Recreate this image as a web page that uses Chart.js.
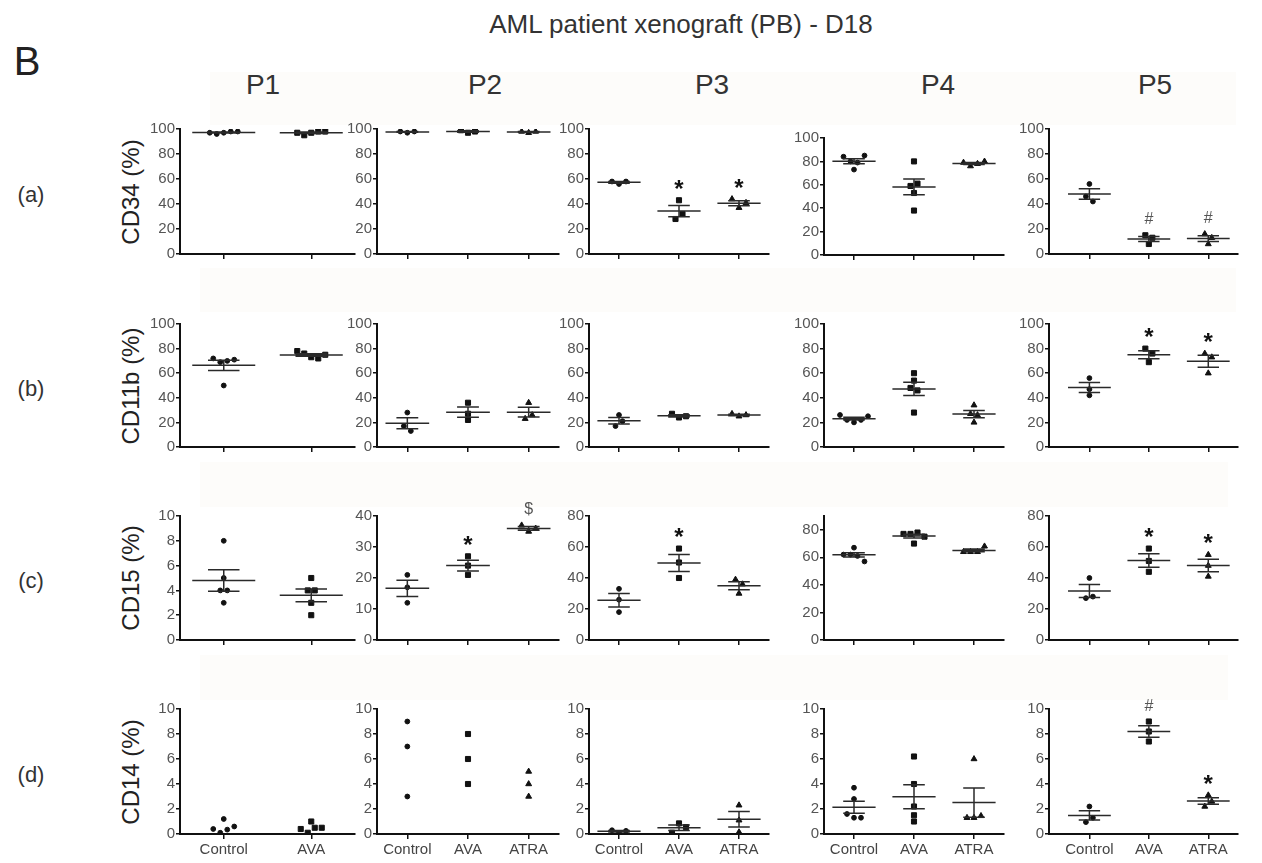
<!DOCTYPE html>
<html><head><meta charset="utf-8">
<script src="https://cdn.jsdelivr.net/npm/chart.js@4.4.1/dist/chart.umd.min.js"></script>
<style>
body{margin:0;background:#fff;width:1262px;height:863px;position:relative;overflow:hidden;font-family:"Liberation Sans",Arial,sans-serif;}
.t{position:absolute;white-space:nowrap;color:#333;line-height:1;transform:translate(-50%,-50%);}
.rot{transform:translate(-50%,-50%) rotate(-90deg);}
canvas{position:absolute;}
.band{position:absolute;background:#fdfcfa;}
</style></head><body>
<script>
// ---------------- data ----------------
const figTitle = 'AML patient xenograft (PB) - D18';
const panelLetter = 'B';
const patients = ['P1','P2','P3','P4','P5'];
const markerTitles = ['CD34 (%)','CD11b (%)','CD15 (%)','CD14 (%)'];
const rowTags = ['(a)','(b)','(c)','(d)'];
const groups = ['Control','AVA','ATRA'];

// CD34 (%)
const cd34P1 = [[97,96,97,98,98],[97,95,97,98,98]];
const cd34P2 = [[98,97,98],[99,97,98],[98,97,98]];
const cd34P3 = [[58,56,58],[43,28,32],[44,37,41]];
const cd34P4 = [[84,80,73,79,85],[80,59,61,53,38],[79,76,78,80]];
const cd34P5 = [[56,46,42],[15,8,13],[16,8,13]];
// CD11b (%)
const cd11bP1 = [[72,69,70,71,50],[78,76,73,72,75]];
const cd11bP2 = [[28,17,13],[36,22,27],[36,23,26]];
const cd11bP3 = [[26,17,21],[27,24,25],[27,25,26]];
const cd11bP4 = [[26,22,20,22,25],[60,54,48,46,28],[34,27,26,20]];
const cd11bP5 = [[56,42,47],[80,69,76],[76,73,60]];
// CD15 (%)
const cd15P1 = [[8,5,4,4,3],[5,4,4,3,2]];
const cd15P2 = [[21,17,12],[27,24,21],[37,35,36]];
const cd15P3 = [[33,26,18],[59,50,40],[39,30,36]];
const cd15P4 = [[67,62,62,61,57],[77,77,78,75,70],[64,64,64,68]];
const cd15P5 = [[40,27,28],[59,51,44],[55,48,41]];
// CD14 (%)
const cd14P1 = [[0.4,0.1,0.35,0.6,1.2],[0.4,0.1,1.0,0.5,0.5]];
const cd14P2 = [[9,7,3],[8,6,4],[5,4,3]];
const cd14P3 = [[0.3,0.1,0.25],[0.1,0.85,0.55],[2.3,1.1,0.15]];
const cd14P4 = [[1.6,3.7,2.8,1.3,1.3],[1.0,6.2,4.0,2.2,1.5],[1.3,6.0,1.3,1.45]];
const cd14P5 = [[0.95,2.2,1.3],[7.4,9.0,8.2],[2.2,3.1,2.6]];

// y-axis maxima and tick steps (rows a-d, columns P1-P5)
const yMaxRows  = [[100,100,100,100,100],[100,100,100,100,100],[10,40,80,90,80],[10,10,10,10,10]];
const yStepRows = [[20,20,20,20,20],[20,20,20,20,20],[2,10,20,20,20],[2,2,2,2,2]];

// significance marks
const sigCd34P3  = ['', '*', '*'];
const sigCd34P5  = ['', '#', '#'];
const sigCd11bP5 = ['', '*', '*'];
const sigCd15P2  = ['', '*', '$'];
const sigCd15P3  = ['', '*', ''];
const sigCd15P5  = ['', '*', '*'];
const sigCd14P5  = ['', '#', '*'];
const noSig = ['', '', ''];

// panels without mean/SEM bars
const statsHidden = [[false,false,false,false,false],[false,false,false,false,false],[false,false,false,false,false],[true,true,false,false,false]];

// ---------------- tables built from the arrays ----------------
const valueTable = [
  [cd34P1, cd34P2, cd34P3, cd34P4, cd34P5],
  [cd11bP1, cd11bP2, cd11bP3, cd11bP4, cd11bP5],
  [cd15P1, cd15P2, cd15P3, cd15P4, cd15P5],
  [cd14P1, cd14P2, cd14P3, cd14P4, cd14P5]
];
const sigTable = [
  [noSig, noSig, sigCd34P3, noSig, sigCd34P5],
  [noSig, noSig, noSig, noSig, sigCd11bP5],
  [noSig, sigCd15P2, sigCd15P3, noSig, sigCd15P5],
  [noSig, noSig, noSig, noSig, sigCd14P5]
];

// ---------------- layout ----------------
const FONT = '"Liberation Sans", Arial, sans-serif';
const colAxisX = [180, 377, 589, 824, 1049];
const colPlotW = [175, 182, 180, 180, 189];
const colXRange = [[-0.5,1.5],[-0.5,2.5],[-0.5,2.5],[-0.5,2.5],[-0.68,2.5]];
const rowTop = [129, 324, 516, 709];
const rowBottom = [254, 447, 640, 834];
const titleX = [263, 485, 712, 938, 1155];
const pointStyles = ['circle','rect','triangle'];
const pointRadii = [2.4, 3.6, 3.4];

function addText(txt, x, y, size, color, extraClass, weight){
  const d = document.createElement('div');
  d.className = 't' + (extraClass ? ' ' + extraClass : '');
  d.textContent = txt;
  d.style.left = x + 'px'; d.style.top = y + 'px';
  d.style.fontSize = size + 'px';
  if (color) d.style.color = color;
  if (weight) d.style.fontWeight = weight;
  document.body.appendChild(d);
}
function addBand(x,y,w,h){
  const d = document.createElement('div'); d.className='band';
  Object.assign(d.style,{left:x+'px',top:y+'px',width:w+'px',height:h+'px'});
  document.body.appendChild(d);
}
addBand(210,72,1026,53);
addBand(200,268,1036,44);
addBand(200,462,1028,45);
addBand(200,655,1028,45);

addText(figTitle, 681, 24, 26, '#333');
addText(panelLetter, 27, 61, 40, '#222');
patients.forEach((p,i)=> addText(p, titleX[i], 85, 28, '#333'));
rowTags.forEach((t,r)=>{
  const mid = (rowTop[r]+rowBottom[r])/2;
  addText(t, 31, mid + 3, 22, '#333');
  addText(markerTitles[r], 131, mid, 24, '#222', 'rot');
});

function makePlugin(values, sig, showStats){
  const TH = 6, STEP = 7;
  return {
    id: 'dotstats',
    beforeDatasetsDraw(chart){
      const xs = chart.scales.x;
      chart.data.datasets.forEach((ds, gi)=>{
        const meta = chart.getDatasetMeta(gi);
        const cx = xs.getPixelForValue(gi);
        const items = meta.data.map((el, idx)=>({el, idx, y: el.y}));
        const sorted = items.slice().sort((a,b)=>a.y-b.y);
        const clusters = []; let cur = [];
        sorted.forEach(it=>{
          if (cur.length && it.y - cur[cur.length-1].y >= TH){ clusters.push(cur); cur = []; }
          cur.push(it);
        });
        if (cur.length) clusters.push(cur);
        clusters.forEach(cl=>{
          cl.sort((a,b)=>a.idx-b.idx);
          const k = cl.length;
          cl.forEach((it,j)=>{ it.el.x = cx + (j-(k-1)/2)*STEP; });
        });
      });
    },
    afterDatasetsDraw(chart){
      const ctx = chart.ctx, xs = chart.scales.x, ys = chart.scales.y;
      const cw = xs.getPixelForValue(1) - xs.getPixelForValue(0);
      ctx.save();
      ctx.strokeStyle = '#2a2a2a'; ctx.lineWidth = 1.5;
      values.forEach((vals, gi)=>{
        const cx = xs.getPixelForValue(gi);
        if (showStats){
          const n = vals.length;
          const mean = vals.reduce((a,b)=>a+b,0)/n;
          const sd = Math.sqrt(vals.reduce((a,b)=>a+(b-mean)*(b-mean),0)/(n-1));
          const sem = sd/Math.sqrt(n);
          const ym = ys.getPixelForValue(mean), yh = ys.getPixelForValue(mean+sem), yl = ys.getPixelForValue(mean-sem);
          const mh = 0.36*cw, ch = 0.18*cw;
          ctx.beginPath();
          ctx.moveTo(cx-mh, ym); ctx.lineTo(cx+mh, ym);
          ctx.moveTo(cx, yh); ctx.lineTo(cx, yl);
          ctx.moveTo(cx-ch, yh); ctx.lineTo(cx+ch, yh);
          ctx.moveTo(cx-ch, yl); ctx.lineTo(cx+ch, yl);
          ctx.stroke();
        }
        const s = sig[gi];
        if (s){
          const yTop = ys.getPixelForValue(Math.max(...vals)) - 17;
          ctx.textAlign = 'center'; ctx.textBaseline = 'alphabetic';
          if (s === '*'){
            ctx.fillStyle = '#111'; ctx.font = 'bold 24px ' + FONT;
            ctx.fillText(s, cx, yTop + 13.5);
          } else {
            ctx.fillStyle = '#555'; ctx.font = '16px ' + FONT;
            ctx.fillText(s, cx, yTop + 6);
          }
        }
      });
      ctx.restore();
    }
  };
}

for (let r=0; r<4; r++){
  for (let c=0; c<5; c++){
    const values = valueTable[r][c];
    const n = values.length;
    let top = rowTop[r], bottom = rowBottom[r];
    if (r===0 && c===3){ top = 138; bottom = 255; }
    const yw = 40, pt = 22, pr = 6, xh = (r===3) ? 34 : 10;
    const cv = document.createElement('canvas');
    const W = yw + colPlotW[c] + pr, H = pt + (bottom-top) + xh;
    cv.width = W; cv.height = H;
    cv.style.left = (colAxisX[c]-yw) + 'px';
    cv.style.top = (top-pt) + 'px';
    cv.style.width = W + 'px'; cv.style.height = H + 'px';
    document.body.appendChild(cv);
    const step = yStepRows[r][c], ymax = yMaxRows[r][c];
    new Chart(cv, {
      type: 'scatter',
      data: { datasets: values.map((vals, gi)=>({
        label: groups[gi],
        data: vals.map(v=>({x: gi, y: v})),
        pointStyle: pointStyles[gi],
        pointRadius: pointRadii[gi],
        backgroundColor: '#111', borderColor: '#111', borderWidth: 1,
        showLine: false
      }))},
      options: {
        responsive: false, animation: false, devicePixelRatio: 1,
        layout: { padding: { top: pt, right: pr, left: 0, bottom: 0 } },
        plugins: { legend: { display: false }, tooltip: { enabled: false } },
        scales: {
          x: {
            type: 'linear', min: colXRange[c][0], max: colXRange[c][1],
            afterBuildTicks: s => { s.ticks = groups.slice(0,n).map((g,i)=>({value:i})); },
            afterFit: s => { s.height = xh; },
            ticks: { display: r===3, callback: v => groups[v], color: '#444', font: { size: 15, family: FONT }, padding: 2, maxRotation: 0, autoSkip: false },
            grid: { display: true, drawOnChartArea: false, drawTicks: true, tickLength: 5, color: '#111', lineWidth: 1.5 },
            border: { display: true, color: '#111', width: 2 }
          },
          y: {
            min: 0, max: ymax,
            afterBuildTicks: s => { const t = []; for (let v = 0; v <= ymax + 1e-9; v += step) t.push({value: v}); s.ticks = t; },
            afterFit: s => { s.width = yw; },
            ticks: { stepSize: step, color: '#555', font: { size: 15, family: FONT }, padding: 1 },
            grid: { display: true, drawOnChartArea: false, drawTicks: true, tickLength: 4, color: '#111', lineWidth: 1.5 },
            border: { display: true, color: '#111', width: 2 }
          }
        }
      },
      plugins: [makePlugin(values, sigTable[r][c], !statsHidden[r][c])]
    });
  }
}
</script>
</body></html>
